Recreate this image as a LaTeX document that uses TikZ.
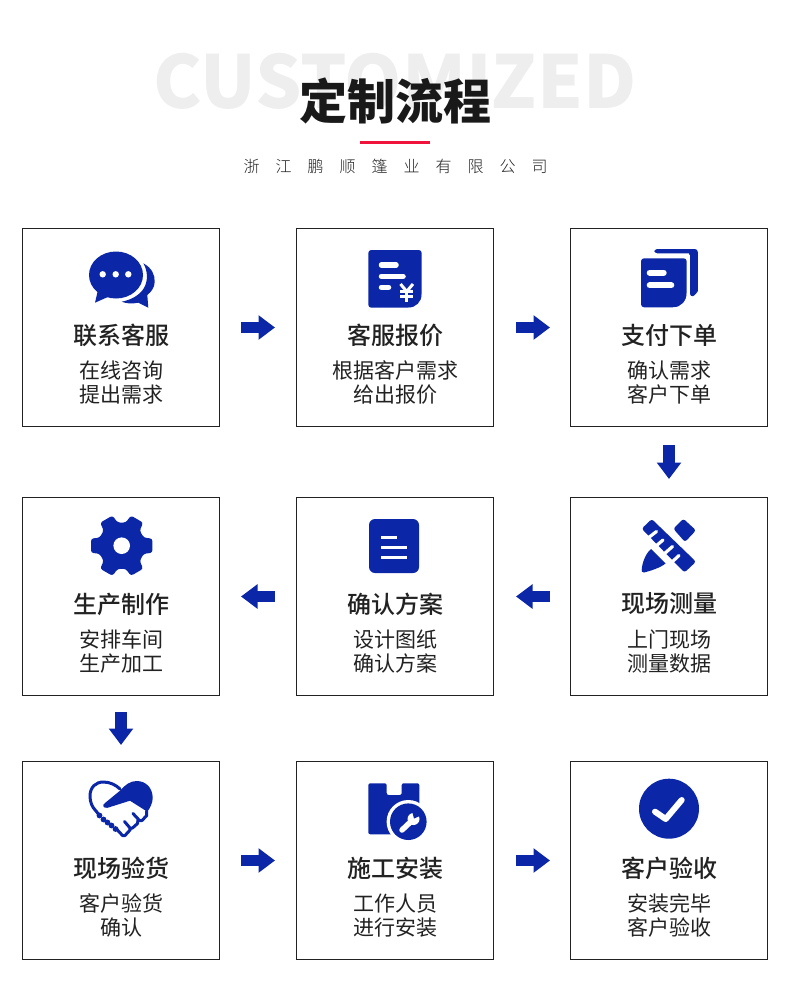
\documentclass[tikz,border=0pt]{standalone}
\usepackage{fontspec}
\usetikzlibrary{arrows.meta,calc}
\setmainfont{Noto Sans CJK SC}
\newfontfamily\cjkblack{Noto Sans CJK SC Black}
\newfontfamily\cjkmed{Noto Sans CJK SC Medium}
\newfontfamily\cjklight{Noto Sans CJK SC Light}
\definecolor{iconblue}{HTML}{0B27A8}
\definecolor{ink}{HTML}{222222}
\definecolor{rulered}{HTML}{F0143C}
\tikzset{
  card/.style={draw=ink,line width=1pt,minimum width=197pt,minimum height=198pt,inner sep=0pt,fill=white},
  cardtitle/.style={font=\cjkmed\fontsize{24}{28}\selectfont,text=ink,inner sep=0pt,anchor=center},
  cardbody/.style={font=\fontsize{21}{24}\selectfont,text=ink,inner sep=0pt,align=center,anchor=center},
  flow/.style={draw=iconblue,line width=11.5pt,-{Triangle[length=16.5pt,width=23.5pt]}},
  icon/.style={fill=iconblue,draw=none},
  cut/.style={fill=white,draw=none},
  bar/.style={draw=white,line width=5.5pt,line cap=round},
  handline/.style={draw=iconblue,line width=3pt,line cap=round,line join=round},
}
\newcommand{\cardtext}[3]{%
  \node[cardtitle] (#1t) at ($(#1)+(0,7.5)$) {#2};
  \node[cardbody] (#1b) at ($(#1)+(0,55)$) {#3};}
\begin{document}
\begin{tikzpicture}[x=1pt,y=-1pt]
\useasboundingbox (0,0) rectangle (790,996);
% heading
\node[font=\cjkblack\fontsize{73}{80}\selectfont,text=black!6.5,inner sep=0pt] (bg) at (395,81) {CUSTOMIZED};
\node[font=\cjkblack\fontsize{48}{50}\selectfont,text=black!90,inner sep=0pt] (head) at (395,101) {定制流程};
\fill[fill=rulered] (360,140.5) rectangle (430,144);
\node[font=\cjklight\fontsize{16}{20}\selectfont,text=ink,inner sep=0pt] (sub) at (395.5,166.5) {浙\hspace{16pt}江\hspace{16pt}鹏\hspace{16pt}顺\hspace{16pt}篷\hspace{16pt}业\hspace{16pt}有\hspace{16pt}限\hspace{16pt}公\hspace{16pt}司};
% cards
\node[card] (a1) at (121,327.5) {};
\node[card] (a2) at (395,327.5) {};
\node[card] (a3) at (669,327.5) {};
\node[card] (b1) at (121,596.5) {};
\node[card] (b2) at (395,596.5) {};
\node[card] (b3) at (669,596.5) {};
\node[card] (c1) at (121,860.5) {};
\node[card] (c2) at (395,860.5) {};
\node[card] (c3) at (669,860.5) {};
\cardtext{a1}{联系客服}{在线咨询\\提出需求}
\cardtext{a2}{客服报价}{根据客户需求\\给出报价}
\cardtext{a3}{支付下单}{确认需求\\客户下单}
\cardtext{b1}{生产制作}{安排车间\\生产加工}
\cardtext{b2}{确认方案}{设计图纸\\确认方案}
\cardtext{b3}{现场测量}{上门现场\\测量数据}
\cardtext{c1}{现场验货}{客户验货\\确认}
\cardtext{c2}{施工安装}{工作人员\\进行安装}
\cardtext{c3}{客户验收}{安装完毕\\客户验收}
% connectors
\begin{scope}[shorten <=21pt,shorten >=21pt]
\draw[flow] (a1) -- (a2);
\draw[flow] (b2) -- (b1);
\draw[flow] (c1) -- (c2);
\end{scope}
\begin{scope}[shorten <=22pt,shorten >=20pt]
\draw[flow] (a2) -- (a3);
\draw[flow] (c2) -- (c3);
\end{scope}
\draw[flow,shorten <=20pt,shorten >=22pt] (b3) -- (b2);
\draw[flow,shorten <=18pt,shorten >=18pt] (a3) -- (b3);
\draw[flow,shorten <=16pt,shorten >=16pt] (b1) -- (c1);
% chat icon
\fill[icon] (116,275) ellipse [x radius=27,y radius=23.5];
\fill[icon] (98,290) -- (95,302.7) -- (109,296.5) -- cycle;
\fill[icon] (143.3,263.3) .. controls (152,268) and (155,275) .. (154.7,282) .. controls (154.5,288) and (151,292) .. (147.3,295) -- (148.3,307.7) -- (138.3,302.7) .. controls (132,304) and (126,303.5) .. (121.7,301.7) .. controls (131,300) and (140,295) .. (144,288) .. controls (148,281) and (148,271) .. (143.3,263.3) -- cycle;
\foreach \x in {102.7,115.7,128.3} \fill[cut] (\x,274.3) circle (3.2);
% quote icon
\fill[icon,rounded corners=3pt] (368.3,250) -- (421.7,250) -- (421.7,290) -- (421.7,296) -- (421.7,307.7) -- (368.3,307.7) -- cycle;
\fill[cut] (421.8,294) -- (422.5,294) -- (422.5,308.5) -- (408,308.5) -- (408,307.8) .. controls (416,307.8) and (421.8,302) .. (421.8,294) -- cycle;
\draw[bar] (381.5,265) -- (396,265);
\draw[bar] (381.5,276.3) -- (403,276.3);
\draw[bar] (381.5,287.3) -- (388.5,287.3);
\draw[white,line width=3pt] (400.5,284) -- (406.7,291.5) -- (413,284);
\draw[white,line width=3pt] (406.7,291.5) -- (406.7,301.8);
\draw[white,line width=2.4pt] (400,291.5) -- (413.3,291.5) (400,296.5) -- (413.3,296.5);
% order icon
\fill[icon,rounded corners=3pt] (654.3,249) -- (697.8,249) -- (697.8,288) .. controls (697.8,292) and (694,296) .. (690,296.7) -- (690,258) .. controls (690,255) and (688,253.3) .. (686,253.3) -- (654.3,253.3) -- cycle;
\fill[icon,rounded corners=3pt] (641,258.3) -- (686.7,258.3) -- (686.7,307.3) -- (641,307.3) -- cycle;
\fill[cut] (686.8,293) -- (687.5,293) -- (687.5,308) -- (673,308) -- (673,307.4) .. controls (681,307.4) and (686.8,301) .. (686.8,293) -- cycle;
\draw[white,line width=6pt,line cap=round] (649.7,272.7) -- (663.7,272.7);
\draw[white,line width=6pt,line cap=round] (649.7,285.3) -- (671.3,285.3);
% gear icon
\fill[icon,rounded corners=2.5pt,shift={(121.7,545.7)}]
  (-13:31.5) -- (13:31.5) -- (20:23.5) -- (40:23.5) -- (47:31.5) -- (73:31.5) -- (80:23.5) -- (100:23.5) -- (107:31.5) -- (133:31.5) -- (140:23.5) -- (160:23.5) -- (167:31.5) -- (193:31.5) -- (200:23.5) -- (220:23.5) -- (227:31.5) -- (253:31.5) -- (260:23.5) -- (280:23.5) -- (287:31.5) -- (313:31.5) -- (320:23.5) -- (340:23.5) -- cycle;
\fill[cut] (121.7,545.7) circle (8.3);
% plan icon
\fill[icon,rounded corners=6pt] (369,519) rectangle (419,573);
\draw[white,line width=3.2pt] (381,537.3) -- (397.3,537.3) (381,547.3) -- (406.7,547.3) (381,557.7) -- (406.7,557.7);
% ruler icon
\fill[icon,rounded corners=2.5pt] (673.3,528.7) -- (683.3,518.7) -- (696,530.3) -- (685,542) -- cycle;
\fill[icon] (651,549) -- (665.5,563.5) .. controls (660,568) and (650,571) .. (644,572.5) .. controls (642,572.7) and (641.5,571) .. (641.7,570) .. controls (642,564) and (645,554) .. (651,549) -- cycle;
\fill[icon,rounded corners=2.5pt] (641.7,528.7) -- (651.7,519) -- (696,561.7) -- (684.5,572.5) -- cycle;
\draw[white,line width=3.2pt,line cap=round]
  (648,538) -- (656.5,531.5)
  (656,546) -- (663,540)
  (664,554) -- (672.5,546.5)
  (672,562) -- (679,555.5);
% handshake icon
\draw[handline] (96,811) .. controls (92,807) and (90,802) .. (90,796) .. controls (90,787) and (96,782) .. (103.3,782) .. controls (110,782) and (116,785) .. (120,789);
\fill[icon] (105,803) -- (120,790.7) .. controls (125,785) and (130,781) .. (136.7,781) .. controls (146,781) and (152.7,788) .. (152.7,798) .. controls (152.7,803) and (150,808) .. (147.3,811.7) -- (130,800.7) -- (107.5,807.8) .. controls (103,808.5) and (102,805) .. (105,803) -- cycle;
\draw[handline] (146.7,811) -- (146.7,815.5) -- (142,820.5) -- (139.5,820.5) -- (133,813.5);
\draw[handline] (138,820) -- (137.5,823.5) -- (132.5,828) -- (130,828) -- (124.5,821.5);
\draw[handline] (130.5,828) -- (130,830) -- (125,835.5) -- (122.5,835.5) -- (116.5,829);
\draw[handline] (96,811) -- (99.5,815.5);
\foreach \x/\y in {99.5/815.5,103.5/819.5,107.5/822.5,111.5/825.5,115.5/829} \fill[icon] (\x,\y) circle (2.9);
% box and wrench icon
\fill[icon,rounded corners=2pt] (368.3,783.3) -- (386.7,783.3) -- (386.7,795) -- (401.7,795) -- (401.7,783.3) -- (419.3,783.3) -- (419.3,834.3) -- (368.3,834.3) -- cycle;
\fill[cut] (408.3,821.7) circle (21.7);
\fill[icon] (408.3,821.7) circle (18.3);
\draw[white,line width=5.5pt,line cap=round] (402,830) -- (411,821.5);
\fill[cut] (413.5,819) circle (6);
\fill[icon] (414,818.5) -- (412,811) -- (421,815.5) -- cycle;
% check icon
\fill[icon] (669,808.7) circle (30);
\draw[white,line width=6pt,line cap=round,line join=round] (655,811.7) -- (665.7,819) -- (681.7,800);
\end{tikzpicture}
\end{document}
